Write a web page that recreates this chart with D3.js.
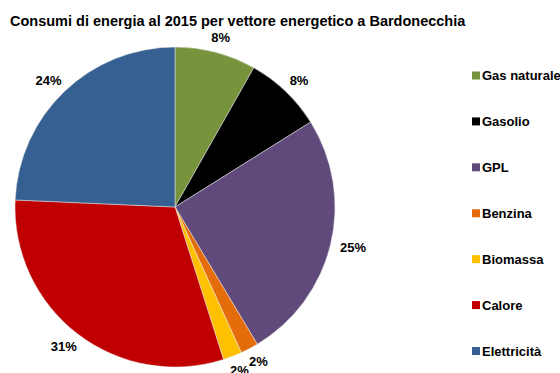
<!DOCTYPE html>
<html>
<head>
<meta charset="utf-8">
<script src="https://cdn.jsdelivr.net/npm/d3@7"></script>
<style>
  html, body { margin: 0; padding: 0; background: #fff; }
  svg { display: block; font-family: "Liberation Sans", Arial, sans-serif; }
</style>
</head>
<body>
<svg id="chart" width="560" height="373"></svg>
<script>
// Energy consumption shares by carrier (%), Bardonecchia 2015
const vettori = ["Gas naturale", "Gasolio", "GPL", "Benzina", "Biomassa", "Calore", "Elettricità"];
const quote = [8.2, 7.9, 25.3, 1.8, 1.9, 30.6, 24.3];
const colori = ["#77933C", "#000000", "#604A7B", "#E46C0A", "#FFC000", "#C00000", "#376092"];
const titolo = "Consumi di energia al 2015 per vettore energetico a Bardonecchia";

const svg = d3.select("#chart");
const data = vettori.map((v, i) => ({ name: v, value: quote[i], color: colori[i] }));
const totale = d3.sum(quote);

// Title
svg.append("text")
  .attr("x", 10).attr("y", 26)
  .attr("font-size", 14.5).attr("font-weight", "bold").attr("fill", "#000")
  .text(titolo);

// Pie
const cx = 175, cy = 207, r = 160;
const pie = d3.pie().sort(null).value(d => d.value);
const arc = d3.arc().innerRadius(0).outerRadius(r);
const arcs = pie(data);

const g = svg.append("g").attr("transform", `translate(${cx},${cy})`);
g.selectAll("path.slice")
  .data(arcs)
  .join("path")
  .attr("class", "slice")
  .attr("d", arc)
  .attr("fill", d => d.data.color)
  .attr("stroke", "#e8e8e8")
  .attr("stroke-width", 0.5);

// Percentage labels: the box edge facing the pie sits a small gap outside the rim
const gap = 10, boxH = 10;
g.selectAll("text.pct")
  .data(arcs)
  .join("text")
  .attr("class", "pct")
  .attr("text-anchor", "middle")
  .attr("dy", "0.35em")
  .attr("font-size", 13).attr("font-weight", "bold").attr("fill", "#000")
  .text(d => Math.round(d.data.value / totale * 100) + "%")
  .attr("transform", function(d) {
    const a = (d.startAngle + d.endAngle) / 2;
    const ux = Math.sin(a), uy = -Math.cos(a);
    const w = this.getComputedTextLength();
    const x = (r + gap) * ux + ux * w / 2;
    const y = (r + gap) * uy + uy * boxH / 2;
    return `translate(${x},${y})`;
  });

// Legend
const ly = d3.scalePoint().domain(vettori).range([75.5, 351]);
const leg = svg.append("g");
const item = leg.selectAll("g.item")
  .data(data)
  .join("g")
  .attr("class", "item")
  .attr("transform", d => `translate(472,${ly(d.name)})`);
item.append("rect")
  .attr("x", 0).attr("y", -4).attr("width", 8).attr("height", 8)
  .attr("fill", d => d.color);
item.append("text")
  .attr("x", 10).attr("dy", "0.36em")
  .attr("font-size", 13).attr("font-weight", "bold").attr("fill", "#000")
  .text(d => d.name);
</script>
</body>
</html>
